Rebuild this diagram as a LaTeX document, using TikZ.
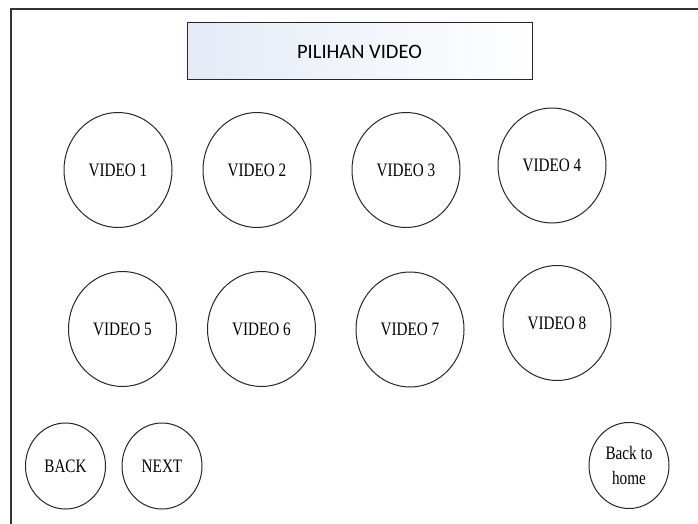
\documentclass[tikz,border=0pt]{standalone}
\usepackage{fontspec}
\setmainfont{Liberation Serif}[FakeStretch=0.8]
\newfontfamily\titlefont{Carlito}
\usetikzlibrary{shapes.geometric}
\definecolor{barblue}{HTML}{E4EAF6}
\tikzset{
	vid/.style={ellipse,draw=black!85,line width=1pt,minimum width=108pt,minimum height=115pt,inner sep=0pt,font=\fontsize{19}{23}\selectfont},
	btn/.style={ellipse,draw=black!85,line width=1pt,minimum width=80pt,minimum height=86pt,inner sep=0pt,align=center,font=\fontsize{19}{25}\selectfont}
}
\begin{document}
\begin{tikzpicture}[x=1pt,y=-1pt]
		\useasboundingbox (0,0) rectangle (698,524);
		% cadre
		\draw[black!80,line width=1.5pt] (11,524) -- (11,9) -- (698,9);
		\node[draw=black!85,line width=1pt,left color=barblue,right color=white,minimum width=345pt,minimum height=57pt,font=\titlefont\fontsize{20.5}{24}\selectfont] (judul) at (359.5,51.5) {PILIHAN VIDEO};
		
		\foreach \n/\x/\y in {1/118/170,2/257/170,3/406/170,4/552/165.5,5/122.5/329,6/261.5/329,7/410/329.5,8/557/323}{
			\node[vid] (v\n) at (\x,\y) {VIDEO \n};}
		
		\node[btn] (back) at (65.5,466) {BACK};
		\node[btn] (next) at (162,466) {NEXT};
		\node[btn] (home) at (629,465.5) {Back to\\home};
		
	\end{tikzpicture}
\end{document}
